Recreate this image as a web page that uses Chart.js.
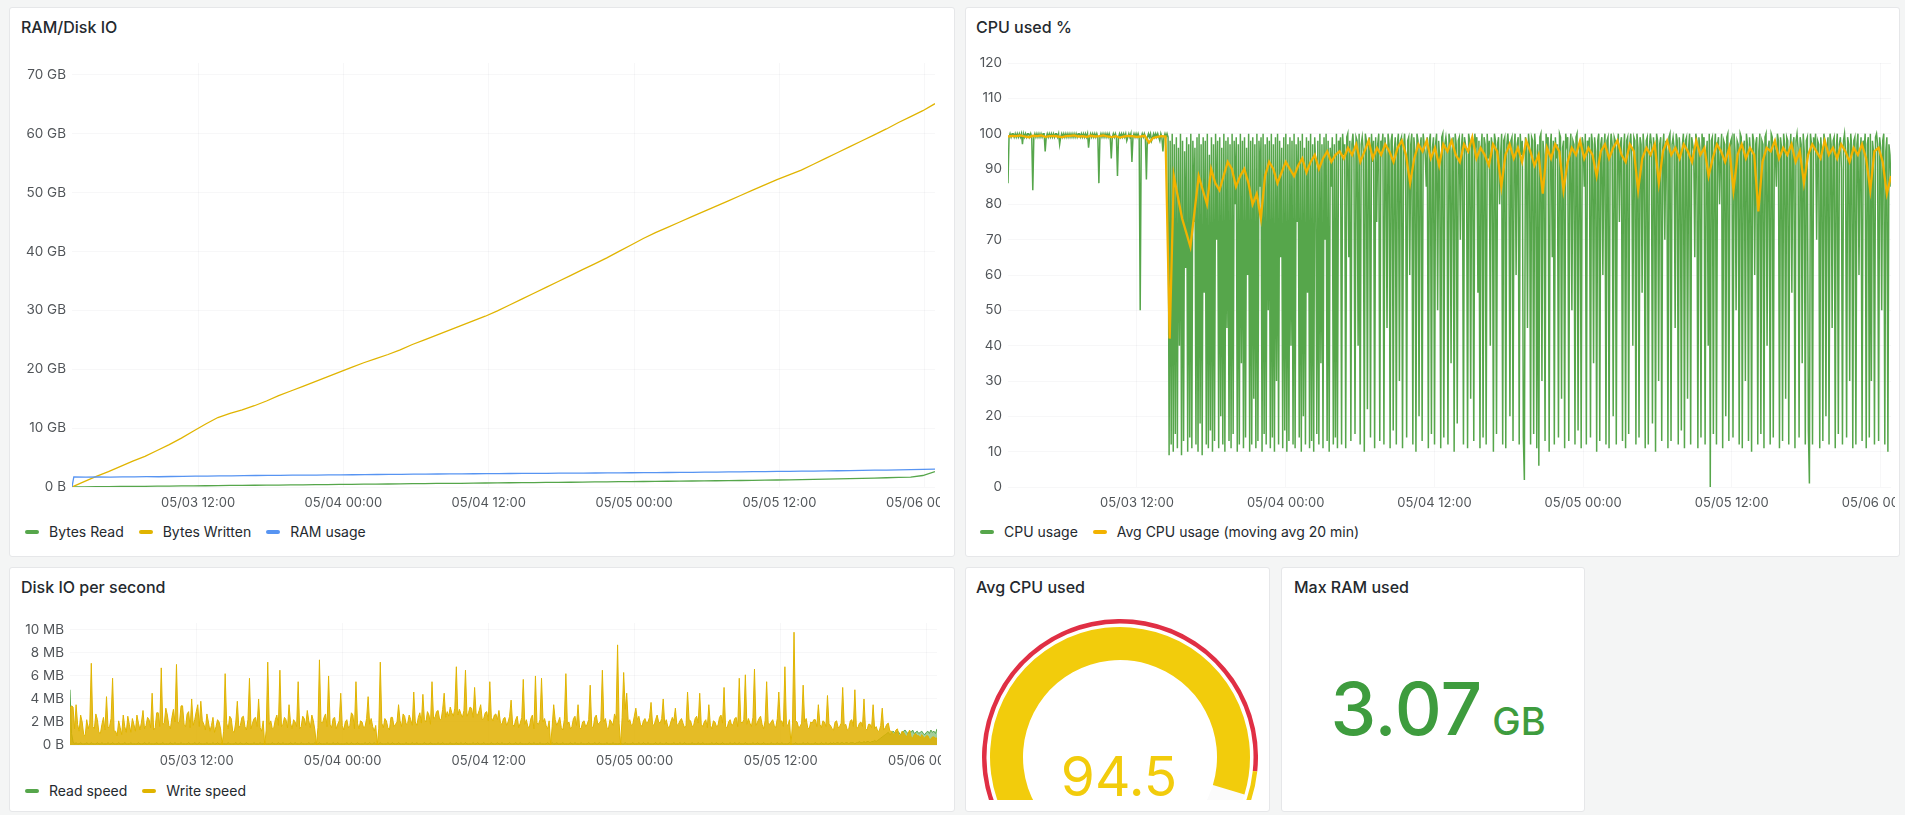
<!DOCTYPE html>
<html>
<head>
<meta charset="utf-8">
<script src="https://cdn.jsdelivr.net/npm/chart.js@4.4.1/dist/chart.umd.min.js"></script>
<style>
html,body{margin:0;padding:0;}
body{width:1905px;height:815px;background:#f4f5f5;position:relative;overflow:hidden;font-family:Inter,"Noto Sans",sans-serif;color:#24292e;}
.panel{position:absolute;background:#fff;border:1px solid #e6e7e9;border-radius:3px;box-sizing:border-box;}
.title{position:absolute;font-size:16px;font-weight:500;line-height:20px;white-space:nowrap;color:#24292e;}
.legend{position:absolute;font-size:14px;line-height:16px;white-space:nowrap;color:#24292e;display:flex;}
.legend .it{display:inline-flex;align-items:center;margin-right:15px;}
.legend i{display:inline-block;width:14px;height:4px;border-radius:2px;margin-right:10px;}
canvas{position:absolute;}
.clip{position:absolute;overflow:hidden;}
.big{position:absolute;white-space:nowrap;text-align:center;}
</style>
</head>
<body>
<div class="panel" style="left:9px;top:7px;width:946px;height:550px"></div>
<div class="panel" style="left:965px;top:7px;width:935px;height:550px"></div>
<div class="panel" style="left:9px;top:567px;width:946px;height:245px"></div>
<div class="panel" style="left:965px;top:567px;width:305px;height:245px"></div>
<div class="panel" style="left:1281px;top:567px;width:304px;height:245px"></div>

<div class="title" style="left:21px;top:17px">RAM/Disk IO</div>
<div class="title" style="left:976px;top:17px">CPU used %</div>
<div class="title" style="left:21px;top:577px">Disk IO per second</div>
<div class="title" style="left:976px;top:577px">Avg CPU used</div>
<div class="title" style="left:1294px;top:577px">Max RAM used</div>

<div class="clip" style="left:9px;top:50px;width:931px;height:467px"><canvas id="c1" width="946" height="467" style="left:0;top:0"></canvas></div>
<div class="clip" style="left:965px;top:50px;width:930px;height:467px"><canvas id="c2" width="935" height="467" style="left:0;top:0"></canvas></div>
<div class="clip" style="left:9px;top:610px;width:932px;height:165px"><canvas id="c3" width="946" height="165" style="left:0;top:0"></canvas></div>
<div class="clip" style="left:966px;top:568px;width:303px;height:232px"><canvas id="c4" width="276" height="276" style="left:16px;top:51px"></canvas></div>

<div class="legend" style="left:25px;top:524px">
  <span class="it"><i style="background:#56A64B"></i>Bytes Read</span>
  <span class="it"><i style="background:#E0B400"></i>Bytes Written</span>
  <span class="it"><i style="background:#5794F2"></i>RAM usage</span>
</div>
<div class="legend" style="left:980px;top:524px">
  <span class="it"><i style="background:#56A64B"></i>CPU usage</span>
  <span class="it"><i style="background:#F2B200"></i>Avg CPU usage (moving avg 20 min)</span>
</div>
<div class="legend" style="left:25px;top:783px">
  <span class="it"><i style="background:#56A64B"></i>Read speed</span>
  <span class="it"><i style="background:#E0B400"></i>Write speed</span>
</div>

<div class="big" id="gaugeText" style="left:1019px;top:749px;width:200px;font-size:55px;line-height:55px;color:#F2CC0C;font-weight:400"></div>
<div class="big" id="statText" style="left:1281px;top:672px;width:314px;font-size:73px;line-height:73px;color:#3E9C3E;font-weight:500"></div>

<script>
// ---- time axis (hours since 05/03 00:00) ----
const tStart = 1.59, tEnd = 72.85;
const xTickHours = [12, 24, 36, 48, 60, 72];
const xTickLabels = ['05/03 12:00', '05/04 00:00', '05/04 12:00', '05/05 00:00', '05/05 12:00', '05/06 00:00'];

// ---- RAM/Disk IO (GB, hourly) ----
const bytesWrittenGB = [0,0.9,1.8,2.6,3.5,4.4,5.2,6.2,7.2,8.3,
9.5,10.7,11.8,12.5,13.1,13.8,14.6,15.5,16.3,17.1,
17.9,18.7,19.5,20.3,21.1,21.8,22.5,23.3,24.2,25.0,
25.8,26.6,27.4,28.2,29.0,29.9,30.9,31.9,32.9,33.9,
34.9,35.9,36.9,37.9,38.9,40.0,41.1,42.2,43.2,44.1,
45.0,45.9,46.8,47.7,48.6,49.5,50.4,51.3,52.2,53.0,
53.8,54.8,55.8,56.8,57.8,58.8,59.8,60.8,61.9,62.9,
63.9,65.1];
const bytesReadGB = [0,0.03,0.05,0.06,0.09,0.1,0.12,0.14,0.15,0.18,
0.2,0.21,0.24,0.26,0.27,0.3,0.31,0.33,0.36,0.37,
0.39,0.42,0.43,0.45,0.48,0.5,0.51,0.54,0.56,0.57,
0.6,0.62,0.63,0.66,0.68,0.69,0.72,0.74,0.75,0.78,
0.8,0.81,0.84,0.86,0.87,0.9,0.92,0.93,0.96,0.98,
1.0,1.02,1.04,1.06,1.08,1.1,1.13,1.16,1.19,1.22,
1.26,1.3,1.34,1.38,1.42,1.47,1.52,1.57,1.62,1.68,
1.95,2.6];
const ramStartGB = 0;
const ramUsageGB = [1.72,1.68,1.7,1.66,1.71,1.73,1.75,1.74,1.78,1.8,
1.83,1.86,1.88,1.9,1.93,1.95,1.97,1.98,2.0,2.01,
2.03,2.05,2.06,2.08,2.1,2.12,2.13,2.15,2.17,2.2,
2.21,2.22,2.24,2.25,2.26,2.28,2.29,2.3,2.31,2.32,
2.34,2.35,2.36,2.38,2.39,2.4,2.42,2.43,2.45,2.46,
2.48,2.5,2.52,2.54,2.56,2.58,2.6,2.62,2.64,2.66,
2.68,2.71,2.73,2.76,2.79,2.82,2.85,2.88,2.91,2.95,
2.99,3.03];
const gbTicks = [0,10,20,30,40,50,60,70];

// ---- CPU used % (5 min samples) ----
const cpuUsage = [
86,99,100,99,100,100,99,100,99,100,99,100,99,100,97,100,99,100,99,100,
100,99,100,99,84,99,100,99,100,99,100,99,100,99,100,100,95,99,100,99,
100,99,100,99,100,99,100,100,99,100,97,99,100,99,100,99,100,99,100,99,
100,99,100,99,100,99,100,99,100,100,99,100,99,100,99,100,99,100,96,99,
100,99,100,99,100,99,100,99,86,99,100,99,100,99,100,99,100,99,100,99,
93,99,100,99,100,99,88,99,100,99,100,99,100,99,100,98,99,100,99,100,
92,99,100,99,100,99,100,99,50,99,100,99,100,99,87,99,100,99,100,98,
99,100,99,100,99,100,99,98,100,99,95,99,100,99,100,99,
9,98,12,100,10,97,15,99,11,96,40,100,9,98,13,95,62,99,10,97,
14,100,11,98,75,96,12,99,10,100,18,97,9,99,55,98,12,100,11,94,
16,99,10,97,13,100,70,98,11,99,20,96,12,100,10,98,45,99,13,97,
11,100,15,98,80,99,10,97,12,100,35,98,11,99,14,96,60,100,10,98,
12,99,25,97,11,100,13,98,85,99,10,100,15,97,12,99,50,98,11,100,
14,97,10,99,30,100,12,98,65,96,11,99,16,100,10,97,13,99,40,98,
12,100,11,97,75,99,14,98,10,100,20,96,12,99,55,98,11,100,13,97,
10,99,90,15,98,12,100,35,97,11,99,70,100,13,98,10,96,85,99,12,
97,14,100,11,98,
96,99,12,100,94,97,11,99,100,65,98,13,97,100,93,15,99,98,40,100,
12,97,99,95,10,100,98,22,96,99,14,100,92,98,11,99,75,97,100,13,
98,96,100,12,99,94,45,100,97,11,98,100,16,95,99,12,97,100,30,98,
99,11,96,100,93,14,98,99,60,97,100,12,99,95,10,100,98,20,96,99,
13,100,97,94,85,99,11,98,100,15,96,99,12,97,100,50,98,93,11,99,
100,14,97,99,96,12,100,98,35,95,99,10,100,97,18,98,99,70,96,100,
12,99,97,94,11,100,98,25,99,96,13,100,97,99,55,98,11,95,100,14,
99,97,12,100,93,98,40,99,96,10,100,98,15,97,99,80,94,100,12,98,
99,11,97,100,95,20,98,99,13,96,100,60,97,99,12,100,94,98,14,2,
99,97,45,100,96,12,99,98,15,100,95,11,97,6,99,100,30,98,94,13,
100,97,99,10,96,100,65,98,12,99,93,97,14,100,99,25,96,98,11,100,
97,99,13,95,100,50,98,97,12,99,100,16,94,98,11,99,97,85,100,12,
98,96,99,14,100,97,35,99,95,10,98,100,13,97,99,60,96,100,12,98,
99,11,94,100,97,20,99,98,12,96,100,75,97,99,13,95,100,11,98,99,
15,97,100,93,40,99,98,12,100,96,14,99,97,55,100,95,11,98,99,12,
96,100,97,18,99,94,10,100,98,30,97,99,13,96,100,70,98,95,11,99,
100,13,97,99,96,45,100,98,12,99,94,16,97,100,11,98,99,25,96,100,
12,99,97,95,65,100,98,11,99,96,14,100,97,99,12,93,98,40,100,0,
98,99,15,96,100,12,97,99,80,94,100,11,98,97,20,99,100,13,96,98,
99,14,100,95,50,98,97,12,100,99,11,96,98,30,100,97,13,99,94,10,
100,98,60,97,99,12,95,100,15,98,97,11,99,100,40,96,98,12,100,99,
14,97,95,85,100,98,11,99,96,13,100,97,25,99,98,12,94,100,55,97,
99,11,98,100,96,14,99,97,35,100,95,12,98,99,16,1,100,97,12,99,
96,100,70,98,97,11,99,94,13,100,98,20,96,99,12,100,97,45,98,99,
11,96,100,15,97,99,90,12,98,100,95,14,99,97,30,100,96,11,98,99,
12,97,100,60,94,99,13,98,96,100,11,97,99,14,100,30,98,95,12,99,
100,97,13,99,96,50,98,100,12,95,99,10,97,94,85];
const cpuAvg20m = [99.2,99.4,99.3,99.5,99.2,99.0,99.4,99.3,99.5,99.1,99.3,99.4,99.2,99.0,99.3,99.4,99.5,99.2,99.3,99.1,
99.4,99.2,99.3,99.5,99.2,99.0,99.3,98.9,99.2,99.4,99.3,99.1,99.2,99.4,97.5,98.8,99.1,99.3,99.2,
42,
88,82,76,72,68,78,88,84,80,90,86,84,88,92,90,85,88,90,86,80,
83,76,88,92,90,86,89,92,90,88,91,93,89,92,94,90,93,95,92,94,
95,93,96,94,97,92,95,98,93,96,94,97,95,92,96,98,94,86,93,97,
95,98,93,96,91,97,95,98,94,92,97,95,99,93,96,94,91,97,95,85,
94,97,93,96,92,98,95,91,94,83,96,93,97,95,84,92,96,94,98,93,
96,94,88,95,97,93,96,98,94,92,97,95,84,93,96,94,97,86,95,98,
94,96,93,97,95,92,98,94,96,88,93,97,95,92,96,84,94,97,93,96,
94,78,92,96,95,98,93,96,94,97,92,95,86,94,97,95,93,98,94,96,
93,97,95,92,96,94,97,93,84,95,96,92,83,88];
const cpuTicks = [0,10,20,30,40,50,60,70,80,90,100,110,120];

// ---- Disk IO per second (MB/s, 7.5 min samples) ----
const writeSpeedMB = [
3.2,3.4,3.3,1.4,3.5,1.8,1.2,2.6,2.0,0.9,0.8,2.2,1.4,1.9,7.1,1.6,1.4,2.7,2.2,1.1,
1.0,1.8,2.4,1.3,4.2,1.5,1.6,2.3,5.8,1.2,1.2,0.8,2.1,1.5,0.9,2.6,1.6,1.1,2.5,1.8,
1.1,2.3,1.8,1.2,2.6,1.9,1.3,2.0,3.0,1.4,1.7,2.4,2.2,1.5,4.5,1.3,1.5,2.8,2.8,1.6,
6.7,1.8,1.9,3.2,2.6,1.7,1.4,2.4,3.1,2.0,7.0,1.9,2.0,3.4,3.4,1.8,1.6,2.7,2.9,1.5,
4.0,1.7,2.2,2.9,3.5,1.6,3.8,2.1,1.8,1.3,2.7,2.0,1.2,1.7,2.4,1.1,1.6,2.2,2.0,1.4,
0,1.2,6.2,1.9,1.4,2.5,2.3,1.2,1.1,2.0,3.8,1.5,1.7,2.4,2.5,1.6,1.3,2.2,5.8,1.4,
1.9,2.3,2.4,1.6,4.0,1.5,1.2,2.1,0,1.3,7.2,1.8,2.1,1.4,1.5,2.2,2.6,1.7,6.5,1.6,
1.8,2.4,2.2,1.5,3.5,1.9,1.4,2.2,2.0,1.6,5.5,1.4,1.6,2.5,2.3,1.7,3.0,2.1,1.5,2.6,
2.1,1.3,0,1.5,7.4,2.0,1.9,2.4,2.7,1.6,6.0,1.8,1.5,2.3,2.4,1.4,1.8,2.1,4.5,1.7,
1.3,2.0,2.2,1.5,1.7,2.8,2.6,1.4,5.5,1.9,1.4,2.1,2.0,1.5,1.6,2.3,4.2,1.8,2.3,1.6,
1.2,1.7,0,1.4,7.2,1.9,1.5,2.3,2.1,1.5,1.3,2.4,2.4,1.6,1.8,2.0,3.5,2.1,1.6,2.7,
2.5,1.8,1.9,2.6,2.2,1.7,4.6,2.0,1.7,2.4,2.8,1.9,4.4,2.2,2.0,2.9,2.6,1.8,5.5,2.3,
2.4,2.9,3.0,2.2,2.2,3.1,4.5,2.4,2.9,2.5,3.3,2.8,2.5,3.2,6.8,2.6,3.1,2.7,2.4,3.0,
6.5,2.5,2.8,3.3,3.2,2.4,5.0,2.7,2.6,3.0,3.5,2.2,2.3,2.8,2.9,2.1,5.5,2.4,2.1,2.6,
2.7,2.2,3.0,1.9,1.8,2.3,2.4,1.7,2.0,2.5,3.9,1.8,1.6,2.2,2.5,1.5,1.9,2.4,5.7,1.8,
2.2,1.6,1.5,2.3,2.6,1.4,6.0,1.9,1.8,2.2,5.8,2.0,2.3,1.7,1.4,2.1,0,1.6,3.5,2.2,
1.7,2.0,2.4,1.5,1.3,2.2,6.2,1.8,2.0,1.4,1.6,2.3,2.5,1.7,3.5,1.5,1.4,2.0,2.1,1.6,
1.8,2.2,5.2,1.6,1.5,2.4,2.6,1.8,1.9,2.1,6.5,2.0,2.3,1.5,1.4,2.2,2.0,1.7,2.7,2.3,
8.7,1.9,0,2.4,6.3,3.1,4.5,2.0,2.2,1.7,1.8,2.5,3.2,2.2,2.5,1.8,1.6,2.1,2.3,1.9,
2.0,2.4,3.7,1.8,1.7,2.2,2.6,2.0,1.9,2.3,4.0,1.8,2.2,1.6,1.5,2.0,2.4,2.1,3.2,1.7,
1.8,2.1,2.3,1.9,1.5,1.7,4.6,2.2,2.1,1.6,1.7,2.3,2.5,1.9,4.5,1.8,1.6,2.0,2.2,1.5,
3.5,1.7,1.4,2.1,2.0,1.6,1.7,2.4,2.6,1.9,5.0,1.6,1.5,2.0,2.2,1.7,1.8,2.3,2.4,1.6,
5.8,2.0,1.9,2.2,6.1,1.8,2.3,1.9,1.6,2.4,6.6,1.7,2.0,2.3,2.5,1.8,1.4,2.1,5.5,1.9,
1.8,2.0,2.2,1.7,1.5,2.3,4.6,2.0,2.1,1.6,6.8,1.8,1.7,2.2,0,1.9,9.8,2.1,2.0,1.5,
1.6,1.9,5.2,2.0,2.3,1.5,1.4,2.0,1.9,2.2,2.2,1.6,3.5,1.8,1.5,2.1,2.0,1.6,4.3,1.8,
1.7,1.4,1.3,2.0,2.1,1.5,1.6,1.9,5.0,1.7,1.8,1.3,1.4,2.1,2.2,1.6,4.8,1.5,1.5,1.9,
2.0,1.6,4.0,1.4,1.3,1.8,1.8,1.5,3.5,1.4,1.6,1.2,1.2,1.7,3.2,1.3,1.5,1.8,1.9,1.2,
1.2,1.0,0.9,1.3,1.4,0.8,0.8,1.2,1.1,0.9,0.7,1.0,1.3,0.7,0.6,0.9,1.0,0.8,0.8,0.6,
0.9,0.7,0.6,0.8,0.8,0.5,0.5,0.7,0.7,0.6,0.6];
const readSpeedMB = [
4.8,1.0,0.3,0.1,0.2,0.1,0.1,0.2,0.1,0.1,0.1,0.2,0.1,0.1,0.2,0.1,0.1,0.1,0.2,0.1,
0.1,0.2,0.1,0.1,0.1,0.2,0.1,0.1,0.2,0.1,0.1,0.1,0.2,0.1,0.1,0.1,0.2,0.1,0.1,0.1,
0.2,0.1,0.1,0.1,0.1,0.2,0.1,0.1,0.1,0.2,0.1,0.1,0.2,0.1,0.1,0.1,0.1,0.2,0.1,0.1,
0.1,0.2,0.1,0.1,0.1,0.1,0.2,0.1,0.1,0.2,0.1,0.1,0.1,0.2,0.1,0.1,0.1,0.1,0.2,0.1,
0.1,0.1,0.2,0.1,0.1,0.2,0.1,0.1,0.1,0.1,0.2,0.1,0.1,0.1,0.2,0.1,0.1,0.2,0.1,0.1,
0.2,0.1,0.1,0.1,0.2,0.1,0.1,0.1,0.1,0.2,0.1,0.1,0.2,0.1,0.1,0.1,0.2,0.1,0.1,0.1,
0.1,0.2,0.1,0.1,0.1,0.2,0.1,0.1,0.2,0.1,0.1,0.1,0.1,0.2,0.1,0.1,0.1,0.2,0.1,0.1,
0.2,0.1,0.1,0.1,0.1,0.2,0.1,0.1,0.2,0.1,0.1,0.1,0.2,0.1,0.1,0.1,0.1,0.2,0.1,0.1,
0.1,0.2,0.1,0.1,0.2,0.1,0.1,0.1,0.1,0.2,0.1,0.1,0.1,0.2,0.1,0.1,0.2,0.1,0.1,0.1,
0.1,0.1,0.2,0.1,0.1,0.2,0.1,0.1,0.1,0.2,0.1,0.1,0.1,0.1,0.2,0.1,0.1,0.2,0.1,0.1,
0.2,0.1,0.1,0.1,0.2,0.1,0.1,0.1,0.1,0.2,0.1,0.1,0.2,0.1,0.1,0.1,0.2,0.1,0.1,0.1,
0.1,0.2,0.1,0.1,0.1,0.2,0.1,0.1,0.2,0.1,0.1,0.1,0.1,0.2,0.1,0.1,0.1,0.2,0.1,0.1,
0.1,0.1,0.2,0.1,0.1,0.2,0.1,0.1,0.1,0.1,0.2,0.1,0.1,0.1,0.2,0.1,0.1,0.2,0.1,0.1,
0.2,0.1,0.1,0.1,0.1,0.2,0.1,0.1,0.2,0.1,0.1,0.1,0.2,0.1,0.1,0.1,0.1,0.2,0.1,0.1,
0.1,0.2,0.1,0.1,0.2,0.1,0.1,0.1,0.1,0.2,0.1,0.1,0.1,0.2,0.1,0.1,0.2,0.1,0.1,0.1,
0.1,0.1,0.2,0.1,0.1,0.2,0.1,0.1,0.1,0.2,0.1,0.1,0.1,0.1,0.2,0.1,0.1,0.2,0.1,0.1,
0.2,0.1,0.1,0.1,0.2,0.1,0.1,0.1,0.1,0.2,0.1,0.1,0.2,0.1,0.1,0.1,0.2,0.1,0.1,0.1,
0.1,0.2,0.1,0.1,0.1,0.2,0.1,0.1,0.2,0.1,0.1,0.1,0.1,0.2,0.1,0.1,0.1,0.2,0.1,0.1,
0.1,0.1,0.2,0.1,0.1,0.2,0.1,0.1,0.1,0.1,0.2,0.1,0.1,0.1,0.2,0.1,0.1,0.2,0.1,0.1,
0.2,0.1,0.1,0.1,0.1,0.2,0.1,0.1,0.2,0.1,0.1,0.1,0.2,0.1,0.1,0.1,0.1,0.2,0.1,0.1,
0.1,0.2,0.1,0.1,0.2,0.1,0.1,0.1,0.1,0.2,0.1,0.1,0.1,0.2,0.1,0.1,0.2,0.1,0.1,0.1,
0.1,0.1,0.2,0.1,0.1,0.2,0.1,0.1,0.1,0.2,0.1,0.1,0.1,0.1,0.2,0.1,0.1,0.2,0.1,0.1,
0.2,0.1,0.1,0.1,0.2,0.1,0.1,0.1,0.1,0.2,0.1,0.1,0.2,0.1,0.1,0.1,0.2,0.1,0.1,0.1,
0.1,0.2,0.1,0.1,0.1,0.2,0.1,0.1,0.2,0.1,0.1,0.1,0.1,0.2,0.1,0.1,0.1,0.2,0.1,0.1,
0.1,0.1,0.2,0.1,0.1,0.2,0.1,0.1,0.1,0.1,0.2,0.1,0.1,0.1,0.2,0.1,0.1,0.2,0.1,0.1,
0.2,0.1,0.2,0.1,0.2,0.2,0.1,0.2,0.2,0.1,0.2,0.2,0.1,0.2,0.2,0.2,0.1,0.2,0.2,0.3,
0.2,0.2,0.3,0.2,0.3,0.3,0.2,0.3,0.3,0.4,0.3,0.4,0.5,0.6,0.7,0.8,0.9,1.0,1.1,0.9,
1.0,1.2,1.1,1.0,1.2,1.1,0.9,1.0,1.2,1.3,1.1,1.0,1.2,1.1,1.3,1.0,1.1,1.2,1.0,1.1,
1.2,1.0,0.9,1.1,1.2,1.0,1.3,1.1,1.2,1.0,1.4];
const mbTicks = [0,2,4,6,8,10];

// ---- Gauge / stat ----
const gaugeValue = 94.5, gaugeMin = 0, gaugeMax = 100;
const gaugeThresholdSteps = [0, 90];
const gaugeThresholdColors = ['#E02F44', '#F2CC0C'];
const maxRamValue = '3.07', maxRamUnit = 'GB';

// ---- helpers ----
Chart.defaults.font.family = 'Inter, "Noto Sans", sans-serif';
const gridColor = 'rgba(36,41,46,0.035)';
const tickColor = 'rgba(36,41,46,0.8)';

function toSeries(values, t0, t1) {
  const step = (t1 - t0) / (values.length - 1);
  return values.map((v, i) => ({ x: t0 + i * step, y: v }));
}

function makeTimeChart(id, datasets, o) {
  return new Chart(document.getElementById(id), {
    type: 'line',
    data: { datasets },
    options: {
      responsive: false, animation: false, devicePixelRatio: 1, events: [],
      layout: { padding: { top: 13, right: o.padRight, left: 0, bottom: 0 } },
      plugins: { legend: { display: false }, tooltip: { enabled: false } },
      elements: { point: { radius: 0 }, line: { tension: 0 } },
      scales: {
        x: {
          type: 'linear', min: tStart, max: tEnd,
          border: { display: false },
          grid: { color: gridColor, drawTicks: false },
          ticks: {
            color: tickColor, font: { size: 13 }, padding: 8, maxRotation: 0, autoSkip: false,
            callback: (v) => { const k = xTickHours.indexOf(v); return k < 0 ? '' : xTickLabels[k]; }
          },
          afterBuildTicks: (s) => { s.ticks = xTickHours.map(v => ({ value: v })); },
          afterFit: (s) => { s.height = 30; s.paddingLeft = 0; s.paddingRight = 0; }
        },
        y: {
          min: 0, max: o.yMax,
          border: { display: false },
          grid: { color: gridColor, drawTicks: false },
          ticks: { color: tickColor, font: { size: 13.5 }, padding: 6, callback: o.yFmt },
          afterBuildTicks: (s) => { s.ticks = o.yTicks.map(v => ({ value: v })); },
          afterFit: (s) => { s.width = o.yWidth; s.paddingTop = 0; s.paddingBottom = 0; }
        }
      }
    }
  });
}

// Panel 1 (later series drawn on top, as in Grafana)
makeTimeChart('c1', [
  { label: 'Bytes Read', order: 3, data: toSeries(bytesReadGB, tStart, tEnd), borderColor: '#56A64B', borderWidth: 1.3, fill: false },
  { label: 'Bytes Written', order: 2, data: toSeries(bytesWrittenGB, tStart, tEnd), borderColor: '#E0B400', borderWidth: 1.3, fill: false },
  { label: 'RAM usage', order: 1, data: [{ x: tStart, y: ramStartGB }].concat(toSeries(ramUsageGB, tStart + 0.15, tEnd)), borderColor: '#5794F2', borderWidth: 1.3, fill: false }
], { yMax: 72, yTicks: gbTicks, yWidth: 63, padRight: 20, yFmt: v => v === 0 ? '0 B' : v + ' GB' });

// Panel 2
makeTimeChart('c2', [
  { label: 'CPU usage', order: 2, data: toSeries(cpuUsage, tStart, tEnd), borderColor: '#56A64B', borderWidth: 1.5, fill: false },
  { label: 'Avg CPU usage (moving avg 20 min)', order: 1, data: toSeries(cpuAvg20m, tStart, tEnd), borderColor: '#F2B200', borderWidth: 2.3, fill: false }
], { yMax: 120, yTicks: cpuTicks, yWidth: 43, padRight: 9, yFmt: v => String(v) });

// Panel 3
makeTimeChart('c3', [
  { label: 'Read speed', order: 2, data: toSeries(readSpeedMB, tStart, tEnd), borderColor: '#56A64B', backgroundColor: 'rgba(86,166,75,0.55)', borderWidth: 1, fill: 'origin' },
  { label: 'Write speed', order: 1, data: toSeries(writeSpeedMB, tStart, tEnd), borderColor: '#E0B400', backgroundColor: 'rgba(224,176,0,0.85)', borderWidth: 1, fill: 'origin' }
], { yMax: 10.6, yTicks: mbTicks, yWidth: 61, padRight: 18, yFmt: v => v === 0 ? '0 B' : v + ' MB' });

// Panel 4: gauge (240 degree arc)
const span = 240;
const toDeg = v => (v - gaugeMin) / (gaugeMax - gaugeMin) * span;
const thrData = [], thrColors = [];
gaugeThresholdSteps.forEach((s, i) => {
  const e = i + 1 < gaugeThresholdSteps.length ? gaugeThresholdSteps[i + 1] : gaugeMax;
  thrData.push(toDeg(e) - toDeg(s)); thrColors.push(gaugeThresholdColors[i]);
});
thrData.push(360 - span); thrColors.push('rgba(0,0,0,0)');
const valColor = gaugeThresholdColors[gaugeThresholdSteps.filter(s => gaugeValue >= s).length - 1];
new Chart(document.getElementById('c4'), {
  type: 'doughnut',
  data: { datasets: [
    { data: thrData, backgroundColor: thrColors, borderWidth: 0, weight: 4.5 },
    { data: [360], backgroundColor: ['rgba(0,0,0,0)'], borderWidth: 0, weight: 3.5 },
    { data: [toDeg(gaugeValue), span - toDeg(gaugeValue), 360 - span], backgroundColor: [valColor, 'rgba(36,41,46,0.02)', 'rgba(0,0,0,0)'], borderWidth: 0, weight: 33 }
  ] },
  options: {
    responsive: false, animation: false, devicePixelRatio: 1, events: [],
    rotation: -120, circumference: 360, cutout: 97,
    layout: { padding: 0 },
    plugins: { legend: { display: false }, tooltip: { enabled: false } }
  }
});
document.getElementById('gaugeText').textContent = String(gaugeValue);
document.getElementById('gaugeText').style.color = valColor;

// Panel 5: stat
document.getElementById('statText').innerHTML = maxRamValue + '<span style="font-size:38px"> ' + maxRamUnit + '</span>';
</script>
</body>
</html>
